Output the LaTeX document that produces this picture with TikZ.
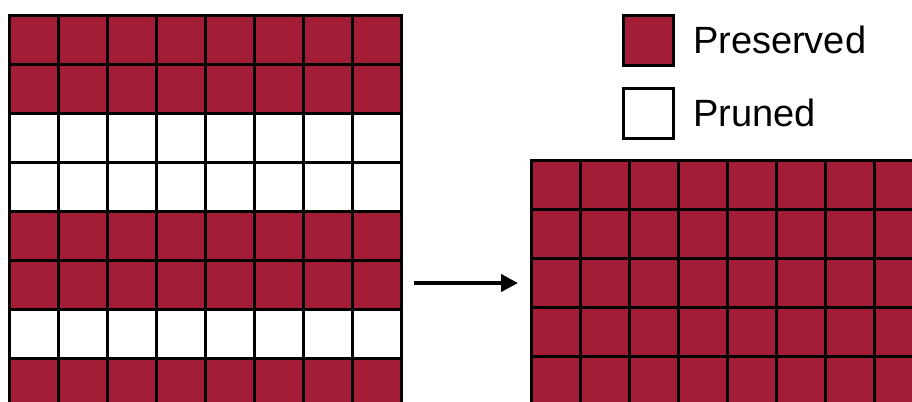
\documentclass[tikz,border=0pt]{standalone}
\usepackage{xcolor}
\definecolor{cKeep}{HTML}{A31D36}
\definecolor{cLine}{HTML}{000000}
\usepackage{fontspec}
\setmainfont{Liberation Sans}
\usepackage{tikz}
\usetikzlibrary{positioning,arrows.meta}
\tikzset{
  node-cell/.style={draw=cLine,line width=1.5pt,rectangle,anchor=north west,
    minimum size=24.5pt,inner sep=0pt,outer sep=0pt},
  node-keep/.style={fill=cKeep},
  node-drop/.style={fill=white},
  node-key/.style={draw=cLine,line width=1.5pt,rectangle,
    minimum size=25pt,inner sep=0pt,outer sep=0pt},
  node-label/.style={inner sep=0pt,outer sep=0pt,anchor=west,
    font=\fontsize{19}{23}\selectfont},
  arrow/.style={-{Triangle[length=8.5pt,width=8.5pt]},line width=2pt,draw=cLine},
}

\begin{document}
\begin{tikzpicture}[x=0.5pt,y=-0.5pt]
  \clip (0,0) rectangle (912,402);

  % left: 8x8 weights, rows 3,4,7 pruned
  \foreach \r/\kind in {1/keep,2/keep,3/drop,4/drop,5/keep,6/keep,7/drop,8/keep}
    \foreach \c in {1,...,8}
      \node[node-cell,node-\kind] (L-\r-\c) at ({9+49*(\c-1)},{15+49*(\r-1)}) {};

  % right: compacted weights
  \foreach \r in {1,...,5}
    \foreach \c in {1,...,8}
      \node[node-cell,node-keep] (R-\r-\c) at ({531+49*(\c-1)},{160+49*(\r-1)}) {};

  % legend
  \node[node-key,fill=cKeep] (key-keep) at (648,40) {};
  \node[node-key,fill=white] (key-drop) at (648,113) {};
  \node[node-label,right=10pt of key-keep] (lab-keep) {Preserved};
  \node[node-label,right=10pt of key-drop] (lab-drop) {Pruned};

  \coordinate (arr-s) at (414,283);
  \coordinate (arr-e) at (518,283);
  \draw[arrow] (arr-s) -- (arr-e);
\end{tikzpicture}
\end{document}
